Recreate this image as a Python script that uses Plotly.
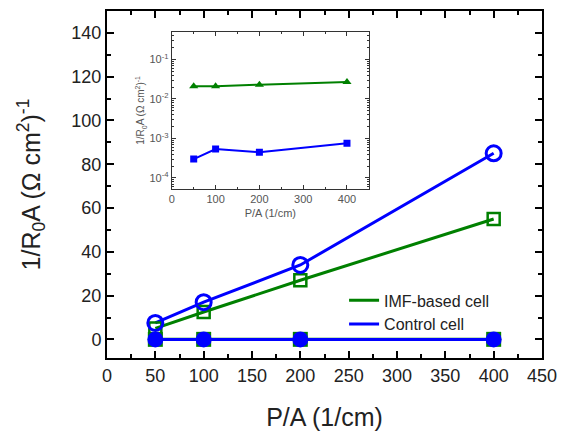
import plotly.graph_objects as go

# Data
pa = [50, 100, 200, 400]
imf_main = [5, 12.5, 27, 55]
control_main = [7.5, 17, 34, 85]
imf_r0a = [0.021, 0.021, 0.023, 0.027]
control_r0a = [0.0003, 0.00054, 0.00045, 0.00076]

GREEN = "rgb(0,128,0)"
BLUE = "rgb(0,0,255)"
FONT = "Liberation Sans, Arial, sans-serif"

fig = go.Figure()

# Main plot: lines (legend) + markers
fig.add_trace(go.Scatter(x=pa, y=imf_main, mode="lines", name="IMF-based cell",
                         line=dict(color=GREEN, width=3)))
fig.add_trace(go.Scatter(x=pa, y=control_main, mode="lines", name="Control cell",
                         line=dict(color=BLUE, width=3)))
fig.add_trace(go.Scatter(x=pa, y=imf_main, mode="markers", showlegend=False,
                         marker=dict(symbol="square-open", size=12, color=GREEN,
                                     line=dict(width=2.5, color=GREEN))))
fig.add_trace(go.Scatter(x=pa, y=control_main, mode="markers", showlegend=False,
                         marker=dict(symbol="circle-open", size=15, color=BLUE,
                                     line=dict(width=3, color=BLUE))))
# Near-zero series on linear axis
fig.add_trace(go.Scatter(x=pa, y=imf_r0a, mode="lines+markers", showlegend=False,
                         line=dict(color=GREEN, width=3),
                         marker=dict(symbol="square", size=15, color=GREEN)))
fig.add_trace(go.Scatter(x=pa, y=control_r0a, mode="lines+markers", showlegend=False,
                         line=dict(color=BLUE, width=3),
                         marker=dict(symbol="circle", size=16, color=BLUE)))

# Inset
fig.add_trace(go.Scatter(x=pa, y=imf_r0a, mode="lines+markers", showlegend=False,
                         xaxis="x2", yaxis="y2",
                         line=dict(color=GREEN, width=2),
                         marker=dict(symbol="triangle-up", size=8, color=GREEN)))
fig.add_trace(go.Scatter(x=pa, y=control_r0a, mode="lines+markers", showlegend=False,
                         xaxis="x2", yaxis="y2",
                         line=dict(color=BLUE, width=2),
                         marker=dict(symbol="square", size=7, color=BLUE)))

minor_log = [m * 10 ** k for k in range(-5, 0) for m in range(2, 10)]

fig.update_layout(
    width=558, height=430,
    margin=dict(l=99, r=24, t=1, b=80),
    paper_bgcolor="white", plot_bgcolor="white",
    font=dict(family=FONT, color="#222"),
    showlegend=True,
    legend=dict(x=0.545, y=0.215, xanchor="left", yanchor="top",
                bgcolor="rgba(0,0,0,0)", font=dict(size=16, color="#222"),
                itemwidth=30, tracegroupgap=0),
    xaxis=dict(range=[0, 450], dtick=50, tick0=0, showgrid=False, zeroline=False,
               showline=True, linecolor="black", linewidth=2, mirror="allticks",
               ticks="inside", ticklen=7, tickwidth=2, tickcolor="black",
               minor=dict(dtick=25, ticks="inside", ticklen=4, tickwidth=1.5, tickcolor="black"),
               tickfont=dict(size=18, color="#222"),
               title=dict(text="P/A (1/cm)", font=dict(size=25, color="#222"), standoff=24)),
    yaxis=dict(range=[-8.5, 150], dtick=20, tick0=0, showgrid=False, zeroline=False,
               showline=True, linecolor="black", linewidth=2, mirror="allticks",
               ticks="inside", ticklen=7, tickwidth=2, tickcolor="black",
               minor=dict(dtick=10, ticks="inside", ticklen=4, tickwidth=1.5, tickcolor="black"),
               tickfont=dict(size=18, color="#222"),
               title=dict(text="1/R<sub>0</sub>A (Ω cm<sup>2</sup>)<sup>-1</sup>",
                          font=dict(size=25, color="#222"), standoff=24)),
    xaxis2=dict(domain=[0.149, 0.602], anchor="y2", range=[0, 450],
                tickvals=[0, 100, 200, 300, 400], showgrid=False, zeroline=False,
                showline=True, linecolor="#333", linewidth=1.2, mirror="allticks",
                ticks="inside", ticklen=4, tickwidth=1, tickcolor="#333",
                minor=dict(dtick=50, ticks="inside", ticklen=2, tickwidth=1, tickcolor="#333"),
                tickfont=dict(size=11, color="#555"),
                title=dict(text="P/A (1/cm)", font=dict(size=11, color="#555"), standoff=4)),
    yaxis2=dict(domain=[0.487, 0.940], anchor="x2", type="log", range=[-4.28, -0.3],
                tickvals=[1e-4, 1e-3, 1e-2, 1e-1],
                ticktext=["10<sup>-4</sup>", "10<sup>-3</sup>", "10<sup>-2</sup>", "10<sup>-1</sup>"],
                showgrid=False, zeroline=False,
                showline=True, linecolor="#333", linewidth=1.2, mirror="allticks",
                ticks="inside", ticklen=4, tickwidth=1, tickcolor="#333",
                minor=dict(tickvals=minor_log, ticks="inside", ticklen=2, tickwidth=1, tickcolor="#333"),
                tickfont=dict(size=11, color="#555"),
                title=dict(text="1/R<sub>0</sub>A (Ω cm<sup>2</sup>)<sup>-1</sup>",
                           font=dict(size=10, color="#555"), standoff=2)),
)

fig.write_html("out.html")
